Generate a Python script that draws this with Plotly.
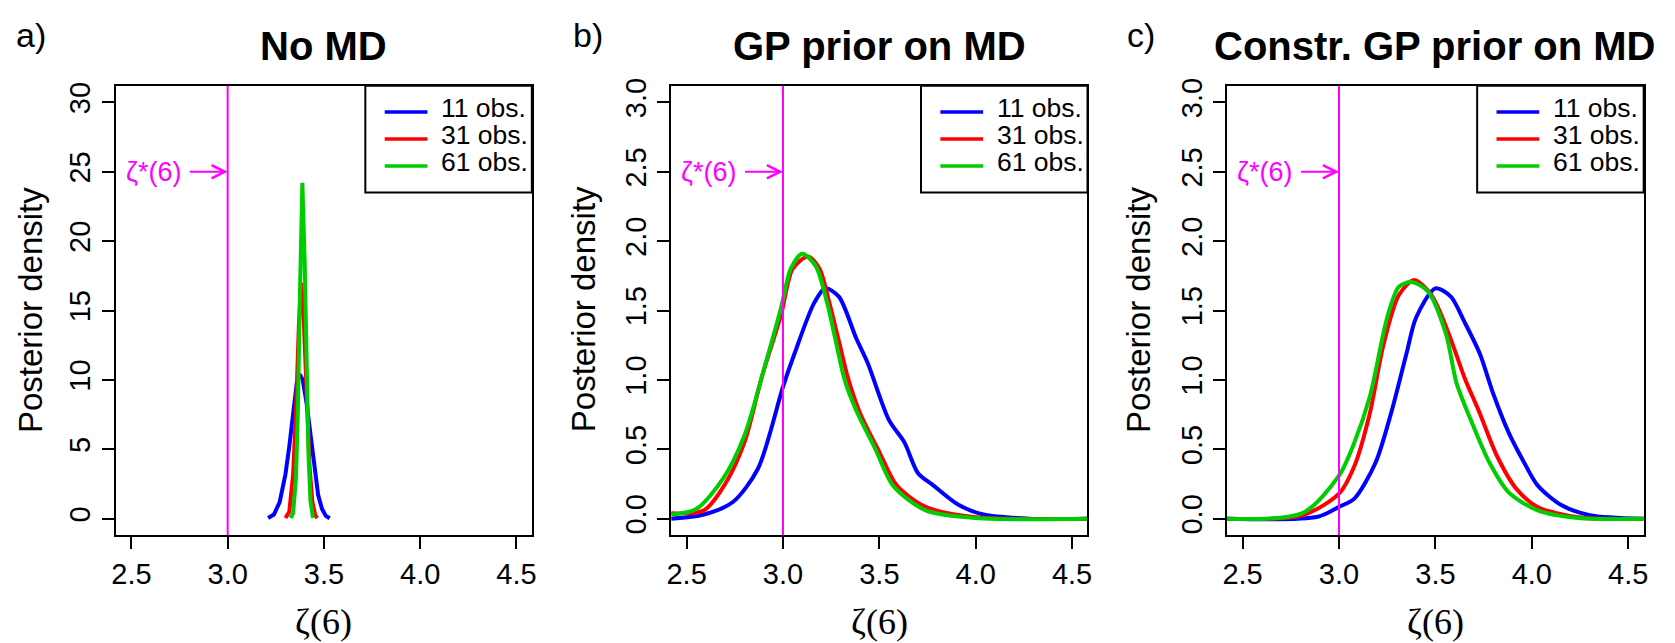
import plotly.graph_objects as go

# ---------------- data ----------------
series_names = ["11 obs.", "31 obs.", "61 obs."]
series_colors = ["#0000FF", "#FF0000", "#00CD00"]

# Panel a) No MD
a_x_11 = [3.21, 3.24, 3.27, 3.30, 3.32, 3.34, 3.36, 3.375, 3.39, 3.41, 3.43, 3.45, 3.47, 3.49, 3.51, 3.53]
a_y_11 = [0.05, 0.3, 1.2, 3.2, 5.2, 7.9, 9.9, 10.4, 10.0, 8.3, 5.9, 3.5, 1.7, 0.7, 0.2, 0.03]
a_x_31 = [3.30, 3.32, 3.34, 3.355, 3.37, 3.382, 3.395, 3.41, 3.425, 3.44, 3.455, 3.465]
a_y_31 = [0.05, 0.5, 3.2, 7.8, 14.0, 17.0, 14.5, 8.5, 3.8, 1.2, 0.25, 0.04]
a_x_61 = [3.327, 3.34, 3.355, 3.365, 3.375, 3.388, 3.40, 3.41, 3.42, 3.43, 3.443]
a_y_61 = [0.05, 0.4, 3.0, 8.0, 16.0, 24.2, 18.5, 10.5, 4.5, 1.3, 0.05]

# Panel b) GP prior on MD
b_x_11 = [2.42, 2.59, 2.74, 2.87, 3.0, 3.06, 3.16, 3.22, 3.29, 3.38, 3.44, 3.55, 3.63, 3.70, 3.78, 3.91, 4.04, 4.28, 4.58]
b_y_11 = [0.0, 0.03, 0.12, 0.36, 0.95, 1.19, 1.55, 1.66, 1.60, 1.30, 1.12, 0.71, 0.55, 0.33, 0.24, 0.10, 0.03, 0.0, 0.0]
b_x_31 = [2.42, 2.59, 2.70, 2.80, 2.89, 2.99, 3.05, 3.13, 3.19, 3.24, 3.29, 3.34, 3.40, 3.50, 3.59, 3.74, 4.0, 4.58]
b_y_31 = [0.04, 0.06, 0.25, 0.55, 1.02, 1.47, 1.80, 1.89, 1.80, 1.56, 1.28, 1.00, 0.76, 0.48, 0.24, 0.085, 0.01, 0.0]
b_x_61 = [2.42, 2.55, 2.69, 2.80, 2.91, 2.99, 3.04, 3.10, 3.17, 3.23, 3.28, 3.32, 3.38, 3.48, 3.57, 3.74, 4.0, 4.58]
b_y_61 = [0.03, 0.07, 0.29, 0.60, 1.12, 1.52, 1.80, 1.91, 1.82, 1.55, 1.24, 1.00, 0.78, 0.50, 0.24, 0.06, 0.005, 0.0]

# Panel c) Constr. GP prior on MD
c_x_11 = [2.42, 2.89, 3.0, 3.08, 3.19, 3.27, 3.35, 3.40, 3.50, 3.58, 3.65, 3.73, 3.80, 3.88, 3.96, 4.03, 4.15, 4.30, 4.58]
c_y_11 = [0.0, 0.014, 0.085, 0.145, 0.405, 0.76, 1.19, 1.45, 1.66, 1.60, 1.42, 1.19, 0.90, 0.62, 0.405, 0.24, 0.10, 0.026, 0.0]
c_x_31 = [2.42, 2.81, 3.0, 3.08, 3.16, 3.23, 3.31, 3.39, 3.48, 3.57, 3.65, 3.73, 3.82, 3.92, 4.03, 4.24, 4.58]
c_y_31 = [0.0, 0.025, 0.18, 0.38, 0.76, 1.25, 1.61, 1.72, 1.61, 1.33, 1.02, 0.76, 0.45, 0.215, 0.085, 0.01, 0.0]
c_x_61 = [2.42, 2.81, 3.0, 3.08, 3.16, 3.25, 3.31, 3.375, 3.46, 3.555, 3.61, 3.69, 3.78, 3.88, 4.03, 4.24, 4.58]
c_y_61 = [0.0, 0.04, 0.31, 0.55, 0.88, 1.45, 1.67, 1.705, 1.64, 1.33, 0.975, 0.69, 0.405, 0.19, 0.06, 0.005, 0.0]

panel_titles = ["No MD", "GP prior on MD", "Constr. GP prior on MD"]
panel_letters = ["a)", "b)", "c)"]
x_ticks = [2.5, 3.0, 3.5, 4.0, 4.5]
y_ticks_a = [0, 5, 10, 15, 20, 25, 30]
y_ticks_bc = [0.0, 0.5, 1.0, 1.5, 2.0, 2.5, 3.0]
true_value = 3.0
annot_y = [25, 2.5, 2.5]

panels = [
    [(a_x_11, a_y_11), (a_x_31, a_y_31), (a_x_61, a_y_61)],
    [(b_x_11, b_y_11), (b_x_31, b_y_31), (b_x_61, b_y_61)],
    [(c_x_11, c_y_11), (c_x_31, c_y_31), (c_x_61, c_y_61)],
]

# ---------------- layout geometry (pixels) ----------------
W, H = 1675, 643
def px(x):
    return x / W
def py(y):
    return 1 - y / H

box_left = [111.7, 670.2, 1229.5]
box_right = [530.0, 1089.0, 1648.5]
box_top, box_bottom = 78.7, 534.0
ytitle_x = [27.5, 584.0, 1143.0]
letter_x = [26.5, 587.0, 1143.0]

FONT = "Liberation Sans, Arial, Helvetica, sans-serif"
SERIF = "Liberation Serif, Times New Roman, serif"

fig = go.Figure()

for p in range(3):
    xa = "x" if p == 0 else f"x{p+1}"
    ya = "y" if p == 0 else f"y{p+1}"
    for s in range(3):
        xs, ys = panels[p][s]
        fig.add_trace(go.Scatter(
            x=xs, y=ys, mode="lines", name=series_names[s],
            line=dict(color=series_colors[s], width=4,
                      shape="linear" if p == 0 else "spline", smoothing=0.8),
            xaxis=xa, yaxis=ya, showlegend=False, hoverinfo="skip",
        ))

layout = dict(
    width=W, height=H,
    margin=dict(l=0, r=0, t=0, b=0),
    paper_bgcolor="white", plot_bgcolor="white",
    font=dict(family=FONT, color="black"),
    showlegend=False,
    annotations=[], shapes=[],
)

def text_y(y, fs):
    return py(y - 0.1 * fs)

for p in range(3):
    sfx = "" if p == 0 else str(p + 1)
    xdom = [px(box_left[p]), px(box_right[p])]
    ydom = [py(box_bottom), py(box_top)]
    yt = y_ticks_a if p == 0 else y_ticks_bc
    yr = [-1.2, 31.2] if p == 0 else [-0.12, 3.12]
    layout["xaxis" + sfx] = dict(
        domain=xdom, range=[2.42, 4.58], anchor="y" + sfx,
        tickvals=x_ticks, ticktext=[f"{v:.1f}" for v in x_ticks],
        ticks="outside", ticklen=12, tickwidth=2, tickcolor="black",
        showline=True, mirror=True, linecolor="black", linewidth=2,
        showgrid=False, zeroline=False,
        tickfont=dict(size=29, family=FONT),
    )
    layout["yaxis" + sfx] = dict(
        domain=ydom, range=yr, anchor="x" + sfx,
        tickvals=yt,
        ticktext=[str(v) for v in yt] if p == 0 else [f"{v:.1f}" for v in yt],
        ticks="outside", ticklen=12, tickwidth=2, tickcolor="black",
        showline=True, mirror=True, linecolor="black", linewidth=2,
        showgrid=False, zeroline=False, tickangle=-90,
        tickfont=dict(size=29, family=FONT),
    )
    # vertical line at true value
    layout["shapes"].append(dict(
        type="line", xref="x" + sfx, yref=f"y{sfx} domain",
        x0=true_value, x1=true_value, y0=0, y1=1,
        line=dict(color="#FF00FF", width=2),
    ))
    # arrow annotation
    layout["annotations"].append(dict(
        xref="x" + sfx, yref="y" + sfx, axref="x" + sfx, ayref="y" + sfx,
        x=true_value, y=annot_y[p], ax=2.795, ay=annot_y[p],
        text="", showarrow=True, arrowhead=5, arrowwidth=2, arrowsize=1.3,
        arrowcolor="#FF00FF", standoff=0, startstandoff=0,
    ))
    layout["annotations"].append(dict(
        xref="x" + sfx, yref="y" + sfx, x=2.766, y=annot_y[p],
        text="ζ*(6)", showarrow=False, xanchor="right", yanchor="middle",
        font=dict(size=27, color="#FF00FF", family=FONT),
    ))
    # titles
    layout["annotations"].append(dict(
        xref="paper", yref="paper", x=(xdom[0] + xdom[1]) / 2, y=text_y(42.5, 40),
        text=f"<b>{panel_titles[p]}</b>", showarrow=False,
        xanchor="center", yanchor="middle", font=dict(size=40, family=FONT),
    ))
    layout["annotations"].append(dict(
        xref="paper", yref="paper", x=px(letter_x[p]), y=text_y(31, 34),
        text=panel_letters[p], showarrow=False,
        xanchor="center", yanchor="middle", font=dict(size=34, family=FONT),
    ))
    # axis titles
    layout["annotations"].append(dict(
        xref="paper", yref="paper", x=(xdom[0] + xdom[1]) / 2, y=py(622),
        text="ζ(6)", showarrow=False, xanchor="center", yanchor="middle",
        font=dict(size=36, family=SERIF),
    ))
    layout["annotations"].append(dict(
        xref="paper", yref="paper", x=px(ytitle_x[p] - 2), y=py(305.5),
        text="Posterior density", showarrow=False, textangle=-90,
        xanchor="center", yanchor="middle", font=dict(size=33, family=FONT),
    ))
    # legend (box, sample lines, labels)
    lg_right = box_right[p]
    lg_left = lg_right - 167.5
    lg_bottom = box_top + 108
    layout["shapes"].append(dict(
        type="rect", xref="paper", yref="paper",
        x0=px(lg_left), x1=px(lg_right), y0=py(lg_bottom), y1=py(box_top),
        line=dict(color="black", width=2), fillcolor="white", layer="above",
    ))
    for s in range(3):
        ly = box_top + 26.6 + 27.3 * s
        layout["shapes"].append(dict(
            type="line", xref="paper", yref="paper",
            x0=px(lg_left + 19.5), x1=px(lg_left + 62.5), y0=py(ly), y1=py(ly),
            line=dict(color=series_colors[s], width=3.5), layer="above",
        ))
        layout["annotations"].append(dict(
            xref="paper", yref="paper", x=px(lg_left + 74), y=text_y(ly - 1.5, 26),
            text=series_names[s], showarrow=False, xanchor="left", yanchor="middle",
            font=dict(size=26.5, family=FONT),
        ))

fig.update_layout(**layout)
fig.write_html("out.html")
